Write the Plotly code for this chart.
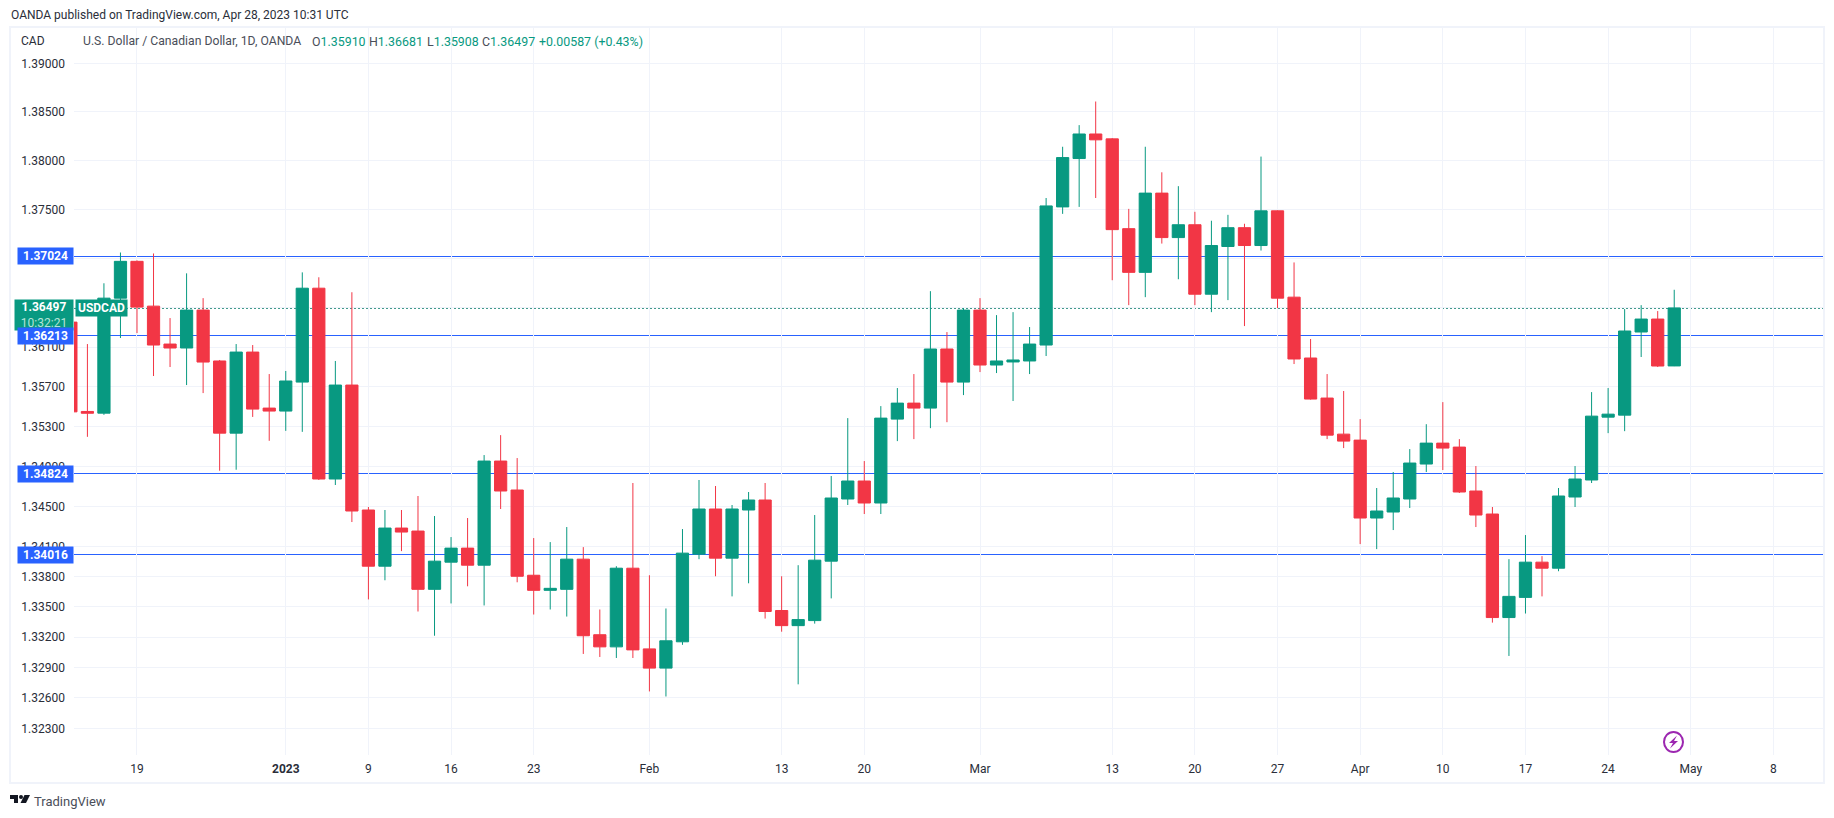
import numpy as np
import plotly.graph_objects as go

# ---------- data ----------
dates = ["2022-12-13","2022-12-14","2022-12-15","2022-12-16","2022-12-19","2022-12-20","2022-12-21","2022-12-22","2022-12-23",
"2022-12-27","2022-12-28","2022-12-29","2022-12-30","2023-01-02","2023-01-03","2023-01-04","2023-01-05","2023-01-06",
"2023-01-09","2023-01-10","2023-01-11","2023-01-12","2023-01-13","2023-01-16","2023-01-17","2023-01-18","2023-01-19","2023-01-20",
"2023-01-23","2023-01-24","2023-01-25","2023-01-26","2023-01-27","2023-01-30","2023-01-31","2023-02-01","2023-02-02","2023-02-03",
"2023-02-06","2023-02-07","2023-02-08","2023-02-09","2023-02-10","2023-02-13","2023-02-14","2023-02-15","2023-02-16","2023-02-17",
"2023-02-20","2023-02-21","2023-02-22","2023-02-23","2023-02-24","2023-02-27","2023-02-28","2023-03-01","2023-03-02","2023-03-03",
"2023-03-06","2023-03-07","2023-03-08","2023-03-09","2023-03-10","2023-03-13","2023-03-14","2023-03-15","2023-03-16","2023-03-17",
"2023-03-20","2023-03-21","2023-03-22","2023-03-23","2023-03-24","2023-03-27","2023-03-28","2023-03-29","2023-03-30","2023-03-31",
"2023-04-03","2023-04-04","2023-04-05","2023-04-06","2023-04-07","2023-04-10","2023-04-11","2023-04-12","2023-04-13","2023-04-14",
"2023-04-17","2023-04-18","2023-04-19","2023-04-20","2023-04-21","2023-04-24","2023-04-25","2023-04-26","2023-04-27","2023-04-28"]
future_dates = ["2023-05-01","2023-05-02","2023-05-03","2023-05-04","2023-05-05","2023-05-08","2023-05-09","2023-05-10","2023-05-11","2023-05-12"]

opens = [1.36353,1.35451,1.35434,1.36596,1.36970,1.36515,1.36131,1.36091,1.36475,
1.35960,1.35233,1.36050,1.35485,1.35455,1.35747,1.36697,1.34773,1.35717,
1.34463,1.33903,1.34283,1.34253,1.33673,1.33943,1.34083,1.33913,1.34953,1.34663,
1.33813,1.33663,1.33673,1.33973,1.33223,1.33103,1.33883,1.33083,1.32893,1.33153,
1.34023,1.34473,1.33983,1.34463,1.34563,1.33463,1.33313,1.33363,1.33953,1.34573,
1.34753,1.34533,1.35374,1.35535,1.35485,1.36081,1.35747,1.36475,1.35919,1.35950,
1.35960,1.36121,1.37525,1.38020,1.38272,1.38222,1.37303,1.36858,1.37666,1.37212,
1.37343,1.36636,1.37121,1.37313,1.37131,1.37485,1.36606,1.35990,1.35586,1.35223,
1.35163,1.34383,1.34443,1.34573,1.34923,1.35133,1.35093,1.34653,1.34423,1.33393,
1.33593,1.33943,1.33883,1.34593,1.34763,1.35394,1.35414,1.36253,1.36384,1.35910]
highs = [1.36400,1.36131,1.36747,1.37060,1.36980,1.37050,1.36394,1.36848,1.36596,
1.35970,1.36131,1.36121,1.35828,1.35859,1.36858,1.36808,1.35960,1.36656,
1.34493,1.34463,1.34463,1.34603,1.34403,1.34193,1.34383,1.35013,1.35213,1.34983,
1.34183,1.34143,1.34293,1.34093,1.33473,1.33903,1.34733,1.33813,1.33483,1.34273,
1.34763,1.34703,1.34513,1.34643,1.34733,1.33803,1.33913,1.34413,1.34803,1.35384,
1.34953,1.35505,1.35687,1.35828,1.36667,1.36252,1.36495,1.36596,1.36424,1.36454,
1.36303,1.37616,1.38141,1.38363,1.38606,1.38230,1.37505,1.38141,1.37879,1.37737,
1.37475,1.37384,1.37444,1.37353,1.38040,1.37490,1.36959,1.36182,1.35828,1.35657,
1.35374,1.34683,1.34843,1.35073,1.35323,1.35545,1.35173,1.34903,1.34493,1.33973,
1.34213,1.34003,1.34683,1.34903,1.35646,1.35687,1.36485,1.36525,1.36465,1.36681]
lows = [1.35430,1.35196,1.35417,1.36192,1.36242,1.35808,1.35899,1.35717,1.35636,
1.34856,1.34866,1.35396,1.35156,1.35256,1.35246,1.34763,1.34713,1.34343,
1.33573,1.33763,1.34053,1.33453,1.33213,1.33533,1.33703,1.33513,1.34473,1.33743,
1.33423,1.33473,1.33403,1.33033,1.33003,1.32993,1.32993,1.32663,1.32613,1.33123,
1.33973,1.33803,1.33603,1.33733,1.33383,1.33253,1.32733,1.33333,1.33583,1.34513,
1.34423,1.34423,1.35153,1.35173,1.35283,1.35343,1.35616,1.35848,1.35838,1.35556,
1.35828,1.36010,1.37454,1.37525,1.37616,1.36778,1.36525,1.36606,1.37151,1.36788,
1.36525,1.36454,1.36576,1.36313,1.37080,1.36495,1.35929,1.35570,1.35173,1.35083,
1.34123,1.34073,1.34263,1.34483,1.34843,1.34863,1.34633,1.34293,1.33343,1.33013,
1.33433,1.33603,1.33853,1.34493,1.34733,1.35233,1.35253,1.36000,1.35899,1.35908]
closes = [1.35447,1.35433,1.36596,1.36970,1.36505,1.36121,1.36091,1.36475,1.35949,
1.35233,1.36050,1.35475,1.35455,1.35758,1.36697,1.34773,1.35717,1.34453,
1.33903,1.34283,1.34243,1.33673,1.33953,1.34083,1.33913,1.34953,1.34653,1.33803,
1.33663,1.33683,1.33973,1.33213,1.33103,1.33883,1.33073,1.32893,1.33163,1.34033,
1.34473,1.33983,1.34473,1.34563,1.33453,1.33313,1.33373,1.33963,1.34583,1.34753,
1.34533,1.35384,1.35535,1.35485,1.36081,1.35747,1.36475,1.35919,1.35960,1.35970,
1.36131,1.37535,1.38030,1.38272,1.38212,1.37293,1.36858,1.37666,1.37212,1.37343,
1.36636,1.37131,1.37313,1.37131,1.37485,1.36596,1.35980,1.35576,1.35213,1.35153,
1.34383,1.34453,1.34583,1.34933,1.35133,1.35083,1.34643,1.34413,1.33393,1.33603,
1.33943,1.33883,1.34603,1.34773,1.35404,1.35424,1.36263,1.36384,1.35909,1.36497]

price_ticks = [1.39,1.385,1.38,1.375,1.37,1.365,1.361,1.357,1.353,1.349,1.345,1.341,1.338,1.335,1.332,1.329,1.326,1.323]
x_tick_dates = ["2022-12-19","2023-01-02","2023-01-09","2023-01-16","2023-01-23","2023-02-01","2023-02-13","2023-02-20",
                "2023-03-01","2023-03-13","2023-03-20","2023-03-27","2023-04-03","2023-04-10","2023-04-17","2023-04-24","2023-05-01","2023-05-08"]
x_tick_text = ["19","<b>2023</b>","9","16","23","Feb","13","20","Mar","13","20","27","Apr","10","17","24","May","8"]

level_prices = [1.37024,1.36213,1.34824,1.34016]
last_price = 1.36497

# ---------- style / layout ----------
UP, DOWN, BLUE = "#089981", "#F23645", "#2962FF"
GRID, TXT = "#F0F3FA", "#131722"
FONT = "Roboto"
L, R, T, B = 74, 1823, 28, 755
W, H = 1834, 818
px = lambda x: (x - L) / (R - L)
py = lambda y: (B - y) / (B - T)

fig = go.Figure(go.Candlestick(
    x=dates, open=opens, high=highs, low=lows, close=closes,
    increasing=dict(line=dict(color=UP, width=1), fillcolor=UP),
    decreasing=dict(line=dict(color=DOWN, width=1), fillcolor=DOWN),
    whiskerwidth=0, showlegend=False))

shapes = [dict(type="rect", xref="paper", yref="paper", x0=px(10), x1=px(1824), y0=py(27), y1=py(783),
               line=dict(color=GRID, width=2), fillcolor="rgba(0,0,0,0)", layer="below")]
for v in level_prices:
    shapes.append(dict(type="line", xref="paper", yref="y", x0=0, x1=1, y0=v, y1=v,
                       line=dict(color=BLUE, width=1), layer="below"))
shapes.append(dict(type="line", xref="paper", yref="y", x0=0, x1=1, y0=last_price, y1=last_price,
                   line=dict(color="#067a67", width=1.5, dash="2px,2px"), layer="below"))

def path(points):
    return "M " + " L ".join(f"{px(a)},{py(b)}" for a, b in points) + " Z"

# lightning badge
shapes.append(dict(type="circle", xref="paper", yref="paper", x0=px(1664), x1=px(1683), y0=py(752), y1=py(732),
                   line=dict(color="#9C27B0", width=2), fillcolor="white", layer="above"))
shapes.append(dict(type="path", xref="paper", yref="paper", layer="above", fillcolor="#9C27B0", line=dict(width=0),
                   path=path([(1677, 735.5), (1669, 743), (1673, 743), (1670, 748.5), (1678, 741), (1674, 741)])))
# TradingView logo
for pts in ([(10, 795), (18, 795), (18, 803), (14, 803), (14, 799), (10, 799)],
            [(24.5, 795), (30, 795), (26, 803), (20.5, 803)]):
    shapes.append(dict(type="path", xref="paper", yref="paper", fillcolor="#131722", line=dict(width=0), path=path(pts)))
shapes.append(dict(type="circle", xref="paper", yref="paper", x0=px(19), x1=px(23), y0=py(799), y1=py(795),
                   fillcolor="#131722", line=dict(width=0)))

def text(x, y, s, size=12, color=TXT, anchor="left"):
    return dict(xref="paper", yref="paper", x=px(x), y=py(y), text=s, showarrow=False, xanchor=anchor, yanchor="middle",
                font=dict(family=FONT, size=size, color=color), borderpad=0)

def val(label, value):
    return f'<span style="color:#4a4e59">{label}</span>{value}'

annots = [
    text(10, 15, "OANDA published on TradingView.com, Apr 28, 2023 10:31 UTC", 12, "#2a2e39"),
    text(20, 41, "CAD", 12, "#2a2e39"),
    text(82, 41, "U.S. Dollar / Canadian Dollar, 1D, OANDA", 12.2, "#4a4e59"),
    text(311, 41, val("O", "1.35910"), 12.4, UP),
    text(368, 41, val("H", "1.36681"), 12.4, UP),
    text(425.5, 41, val("L", "1.35908"), 12.4, UP),
    text(481, 41, val("C", "1.36497"), 12.4, UP),
    text(537.5, 41, "+0.00587 (+0.43%)", 12.4, UP),
    text(33, 801.5, "TradingView", 13, "#4a4e59"),
    # current price label
    dict(xref="paper", yref="y", x=0, y=np.log10(last_price), xanchor="right", yanchor="middle", yshift=-7,
         text='<b>1.36497</b><br><span style="color:#b5e3d8">10:32:21</span>', showarrow=False, width=58, height=30,
         align="center", bgcolor=UP, borderpad=0, font=dict(family=FONT, size=12, color="white")),
    dict(xref="paper", yref="y", x=0, xshift=1, y=np.log10(last_price), xanchor="left", yanchor="middle",
         text="<b>USDCAD</b>", showarrow=False, width=51, height=16, align="center", bgcolor=UP, borderpad=0,
         font=dict(family=FONT, size=12, color="white")),
]
for v in level_prices:
    annots.append(dict(xref="paper", yref="y", x=0, y=np.log10(v), xanchor="right", yanchor="middle",
                       text=f"<b>{v:.5f}</b>", showarrow=False, width=55, height=16, align="center", bgcolor=BLUE,
                       borderpad=0, font=dict(family=FONT, size=12, color="white")))

# log-scale range from the picture: 1.39000 near the top, 1.32300 near the bottom
y_top, y_bottom = 1.39365, 1.32038

fig.update_layout(
    width=W, height=H, paper_bgcolor="white", plot_bgcolor="white",
    margin=dict(l=L, r=W - R, t=T, b=H - B),
    boxgap=0.26, boxgroupgap=0,
    font=dict(family=FONT, size=12, color=TXT),
    shapes=shapes, annotations=annots,
    xaxis=dict(type="category", categoryorder="array", categoryarray=dates + future_dates,
               range=[0.189, 106.0], rangeslider=dict(visible=False),
               tickmode="array", tickvals=x_tick_dates, ticktext=x_tick_text, tickangle=0,
               showgrid=True, gridcolor=GRID, gridwidth=1, zeroline=False, showline=False, ticks="",
               tickfont=dict(family=FONT, size=12, color="#2a2e39"), ticklabelstandoff=5, layer="below traces"),
    yaxis=dict(type="log", range=[np.log10(y_bottom), np.log10(y_top)], side="left",
               tickmode="array", tickvals=price_ticks, ticktext=[f"{v:.5f}" for v in price_ticks],
               showgrid=True, gridcolor=GRID, gridwidth=1, zeroline=False, showline=False, ticks="",
               tickfont=dict(family=FONT, size=12, color="#2a2e39"), ticklabelstandoff=8, layer="below traces"),
    hovermode=False,
)

# page tweaks: no body margin, and crisp (pixel-snapped) blue level lines
post = """
document.body.style.margin='0';document.body.style.overflow='hidden';
document.querySelectorAll('.shapelayer path').forEach(function(p){
  var s = p.style.stroke || '';
  if (s.indexOf('41, 98, 255') >= 0) { p.style.shapeRendering = 'crispEdges'; }
});
"""
fig.write_html("out.html", config=dict(displayModeBar=False), post_script=post)
